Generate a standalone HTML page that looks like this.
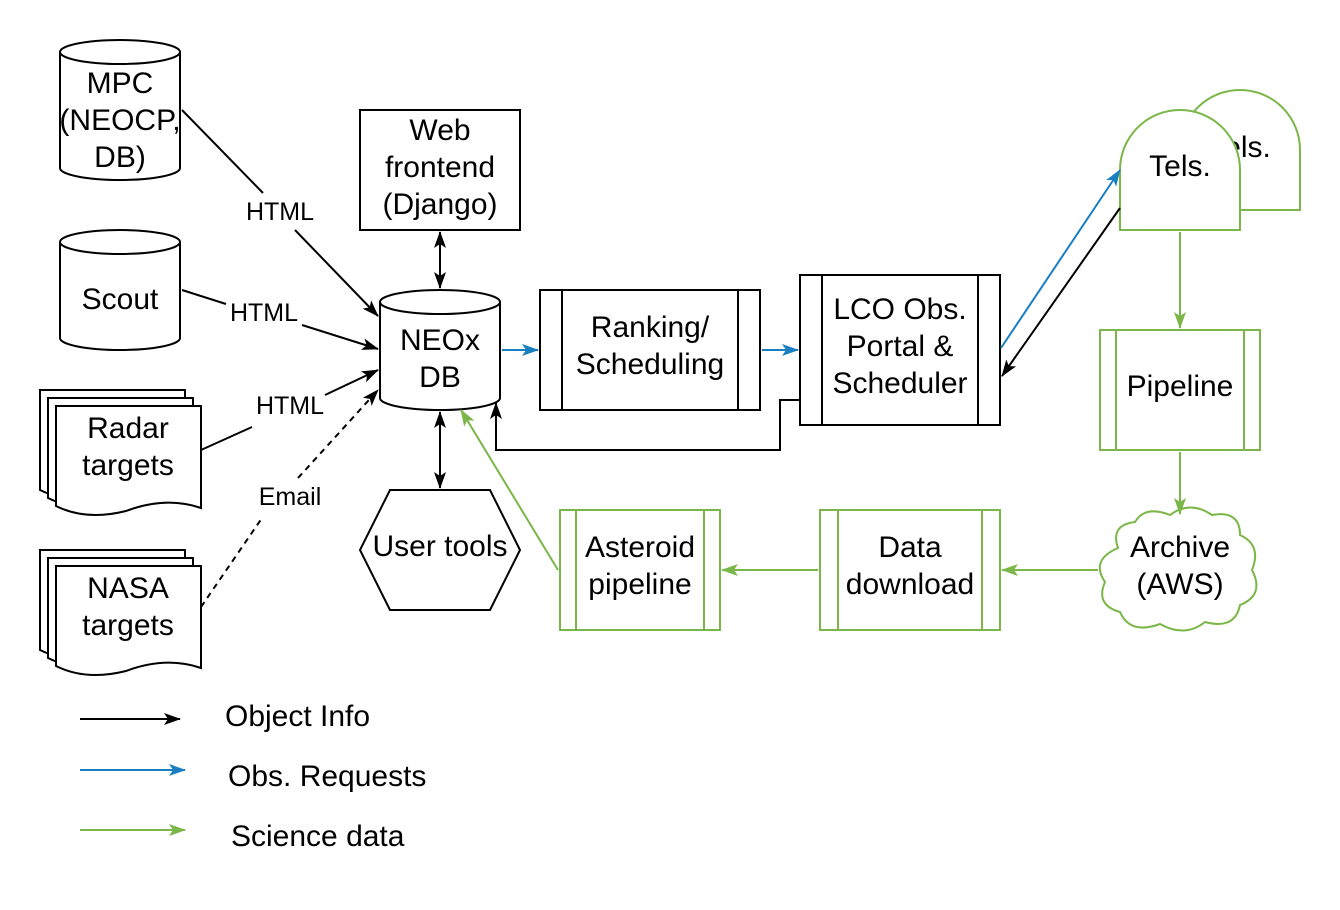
<!DOCTYPE html>
<html><head><style>body{margin:0;background:#fff}svg{display:block}text{font-family:"Liberation Sans",Arial,sans-serif;fill:#000}</style></head>
<body>
<svg width="1340" height="910" viewBox="0 0 1340 910" xmlns="http://www.w3.org/2000/svg">
<defs>
<marker id="ak" markerWidth="18" markerHeight="14" refX="16" refY="7" orient="auto" markerUnits="userSpaceOnUse"><path d="M0,1 L17,7 L0,13 L4,7 z" fill="#000"/></marker>
<marker id="ab" markerWidth="18" markerHeight="14" refX="16" refY="7" orient="auto" markerUnits="userSpaceOnUse"><path d="M0,1 L17,7 L0,13 L4,7 z" fill="#1a7fc1"/></marker>
<marker id="ag" markerWidth="18" markerHeight="14" refX="16" refY="7" orient="auto" markerUnits="userSpaceOnUse"><path d="M0,1 L17,7 L0,13 L4,7 z" fill="#7ab648"/></marker>
<marker id="aks" markerWidth="18" markerHeight="14" refX="16" refY="7" orient="auto-start-reverse" markerUnits="userSpaceOnUse"><path d="M0,1 L17,7 L0,13 L4,7 z" fill="#000"/></marker>
</defs>
<g stroke="#000" stroke-width="2" fill="#fff">
<path d="M60,52 A60,12 0 0 1 180,52 V168 A60,12 0 0 1 60,168 Z"/><path d="M60,52 A60,12 0 0 0 180,52" fill="none"/>
<path d="M60,242 A60,12 0 0 1 180,242 V338 A60,12 0 0 1 60,338 Z"/><path d="M60,242 A60,12 0 0 0 180,242" fill="none"/>
<path d="M380,302 A60,12 0 0 1 500,302 V398 A60,12 0 0 1 380,398 Z"/><path d="M380,302 A60,12 0 0 0 500,302" fill="none"/>
<rect x="360" y="110" width="160" height="120"/>
<path d="M40,390 H185 V490 Q150,480 110,495 Q70,505 40,490 Z"/>
<path d="M48,398 H193 V498 Q158,488 118,503 Q78,513 48,498 Z"/>
<path d="M56,406 H201 V508 Q166,496 126,511 Q86,521 56,506 Z"/>
<path d="M40,550 H185 V650 Q150,640 110,655 Q70,665 40,650 Z"/>
<path d="M48,558 H193 V658 Q158,648 118,663 Q78,673 48,658 Z"/>
<path d="M56,566 H201 V668 Q166,656 126,671 Q86,681 56,666 Z"/>
<path d="M390,490 H490 L520,550 L490,610 H390 L360,550 Z"/>
<rect x="540" y="290" width="220" height="120"/><path d="M562,290V410M738,290V410" fill="none"/>
<rect x="800" y="275" width="200" height="150"/><path d="M822,275V425M978,275V425" fill="none"/>
</g>
<g stroke="#7ab648" stroke-width="2" fill="#fff">
<path d="M1180,210 V150 A60,60 0 0 1 1300,150 V210 Z"/>
</g>
<text x="1240" y="157" font-size="30" text-anchor="middle">Tels.</text>
<g stroke="#7ab648" stroke-width="2" fill="#fff">
<path d="M1120,230 V170 A60,60 0 0 1 1240,170 V230 Z"/>
<rect x="1100" y="330" width="160" height="120"/><path d="M1116,330V450M1244,330V450" fill="none"/>
<rect x="820" y="510" width="180" height="120"/><path d="M838,510V630M982,510V630" fill="none"/>
<rect x="560" y="510" width="160" height="120"/><path d="M576,510V630M704,510V630" fill="none"/>
<path d="M1118,548 Q1110,525 1135,522 Q1145,505 1170,515 Q1190,500 1212,515 Q1240,510 1240,535 Q1262,545 1252,570 Q1265,595 1240,605 Q1235,630 1205,622 Q1185,638 1160,624 Q1130,635 1120,612 Q1095,605 1105,582 Q1090,560 1118,548 Z"/>
</g>
<g stroke="#000" stroke-width="2" fill="none">
<path d="M182,110 L263,193 M295,230 L378,316" marker-end="url(#aks)"/>
<path d="M182,290 L226,304 M302,325 L378,349" marker-end="url(#aks)"/>
<path d="M201,450 L252,427 M325,395 L378,370" marker-end="url(#aks)"/>
<path d="M201,607 L262,518 M298,478 L378,390" stroke-dasharray="6,5" marker-end="url(#aks)"/>
<path d="M440,232 V288" marker-start="url(#aks)" marker-end="url(#aks)"/>
<path d="M440,412 V488" marker-start="url(#aks)" marker-end="url(#aks)"/>
<path d="M800,400 H780 V450 H496 V403" marker-end="url(#aks)"/>
<path d="M1120,208 L1002,376" marker-end="url(#aks)"/>
<path d="M80,719 H180" marker-end="url(#aks)"/>
</g>
<g stroke="#1a7fc1" stroke-width="2" fill="none">
<path d="M502,350 H538" marker-end="url(#ab)"/>
<path d="M762,350 H798" marker-end="url(#ab)"/>
<path d="M1001,348 L1120,170" marker-end="url(#ab)"/>
<path d="M80,770 H185" marker-end="url(#ab)"/>
</g>
<g stroke="#7ab648" stroke-width="2" fill="none">
<path d="M1180,232 V328" marker-end="url(#ag)"/>
<path d="M1180,452 V514" marker-end="url(#ag)"/>
<path d="M1098,570 H1002" marker-end="url(#ag)"/>
<path d="M818,570 H722" marker-end="url(#ag)"/>
<path d="M558,570 L461,410" marker-end="url(#ag)"/>
<path d="M80,830 H185" marker-end="url(#ag)"/>
</g>
<g font-size="30" text-anchor="middle">
<text x="120" y="93">MPC</text><text x="120" y="130">(NEOCP,</text><text x="120" y="167">DB)</text>
<text x="120" y="309">Scout</text>
<text x="440" y="350">NEOx</text><text x="440" y="387">DB</text>
<text x="440" y="140">Web</text><text x="440" y="177">frontend</text><text x="440" y="214">(Django)</text>
<text x="128" y="438">Radar</text><text x="128" y="475">targets</text>
<text x="128" y="598">NASA</text><text x="128" y="635">targets</text>
<text x="440" y="556">User tools</text>
<text x="650" y="337">Ranking/</text><text x="650" y="374">Scheduling</text>
<text x="900" y="319">LCO Obs.</text><text x="900" y="356">Portal &amp;</text><text x="900" y="393">Scheduler</text>
<text x="1180" y="176">Tels.</text>
<text x="1180" y="396">Pipeline</text>
<text x="1180" y="557">Archive</text><text x="1180" y="594">(AWS)</text>
<text x="910" y="557">Data</text><text x="910" y="594">download</text>
<text x="640" y="557">Asteroid</text><text x="640" y="594">pipeline</text>
</g>
<g font-size="25" text-anchor="middle">
<text x="280" y="220">HTML</text><text x="264" y="321">HTML</text><text x="290" y="414">HTML</text><text x="290" y="505">Email</text>
</g>
<g font-size="30">
<text x="225" y="726">Object Info</text><text x="228" y="786">Obs. Requests</text><text x="231" y="846">Science data</text>
</g>
</svg>
</body></html>
